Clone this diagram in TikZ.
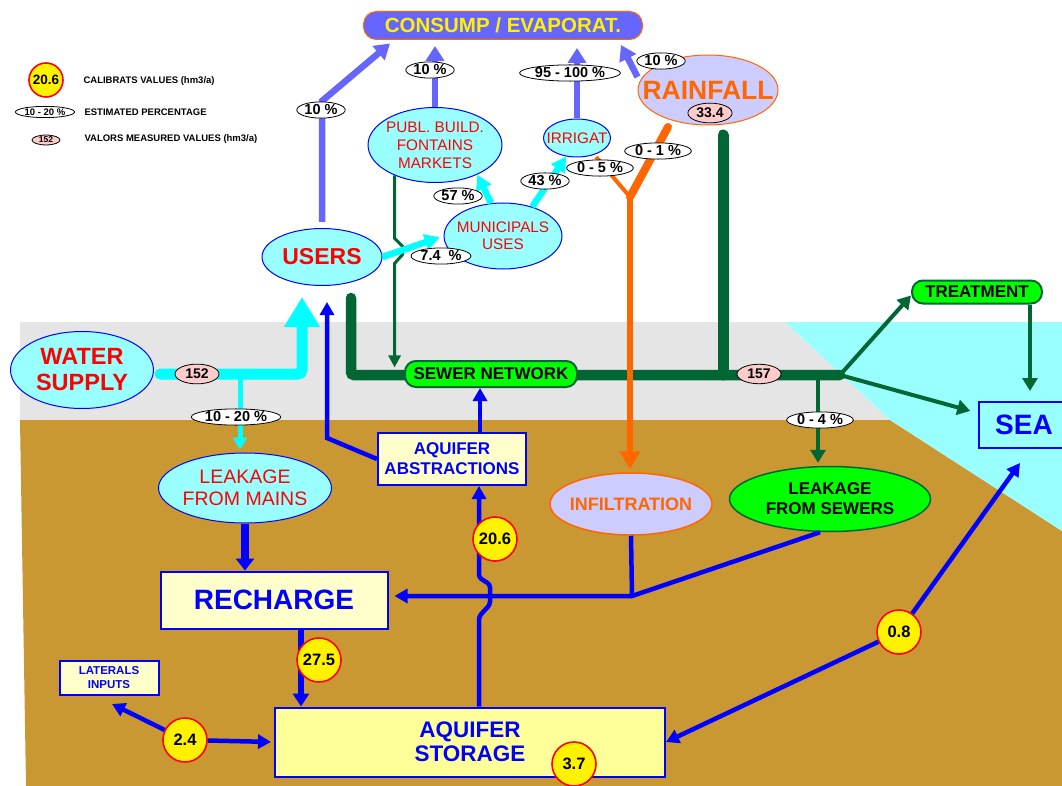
\documentclass[tikz,border=0pt]{standalone}
\usepackage{fontspec}
\setmainfont{Liberation Sans}
\usetikzlibrary{arrows.meta,shapes.geometric,positioning}

\definecolor{soil}{HTML}{C99833}
\definecolor{roadgray}{HTML}{E5E5E5}
\definecolor{seacyan}{HTML}{99FFFF}
\definecolor{flowcyan}{HTML}{00FFFF}
\definecolor{pipegreen}{HTML}{006633}
\definecolor{padgreen}{HTML}{00FF00}
\definecolor{flowblue}{HTML}{0000FF}
\definecolor{evapblue}{HTML}{6666FF}
\definecolor{rainorange}{HTML}{FF6600}
\definecolor{lavender}{HTML}{CCCCFF}
\definecolor{paleyellow}{HTML}{FFFFCC}
\definecolor{storeyellow}{HTML}{FFFF99}
\definecolor{measpink}{HTML}{FFCCCC}
\definecolor{usered}{HTML}{FF0000}

\newcommand{\fsz}[2]{\fontsize{#1}{#2}\selectfont}

\tikzset{
  useell/.style={ellipse,draw=flowblue,fill=seacyan,line width=1,inner sep=0,text=usered,align=center},
  yelbox/.style={rectangle,draw=flowblue,fill=paleyellow,line width=2,inner sep=0,text=flowblue,align=center},
  pill/.style={rectangle,rounded corners=11,draw=pipegreen,fill=padgreen,line width=2,inner sep=0,font=\fsz{17}{20}\bfseries},
  calib/.style={circle,draw=red,fill=yellow,line width=1.6,inner sep=0,minimum size=44,font=\fsz{16.5}{19}\bfseries},
  pct/.style={ellipse,draw,fill=white,line width=0.8,inner sep=0.6,font=\fsz{14.5}{17}\bfseries},
  meas/.style={ellipse,draw,fill=measpink,line width=0.8,inner sep=2,minimum width=44,font=\fsz{14}{16}\bfseries},
  bluearr/.style={flowblue,line width=4.5,-{Triangle[length=13pt,width=14pt]}},
  greenarr/.style={pipegreen,line width=4,-{Triangle[length=13pt,width=15pt]}},
  evaparr/.style={evapblue,line width=6.5,-{Triangle[length=15pt,width=18pt]}},
  cyanarr/.style={flowcyan,line width=6.5,-{Triangle[length=15pt,width=16pt]}},
}

\begin{document}
\begin{tikzpicture}[x=1pt,y=-1pt]
\useasboundingbox (0,0) rectangle (1062,786);
\fill[roadgray] (20,322) -- (785,322) -- (890,420) -- (20,420) -- cycle;
\fill[soil] (20,420) -- (890,420) -- (1062,531) -- (1062,786) -- (26,786) -- cycle;
\fill[seacyan] (785,322) -- (1062,322) -- (1062,531) -- (890,420) -- cycle;

% legend
\node[calib,minimum size=34,font=\fsz{13.5}{16}\bfseries] (legcal) at (46,80) {20.6};
\node[anchor=west,font=\fsz{9.5}{11}\bfseries] (legcaltxt) at (80,81) {CALIBRATS VALUES (hm3/a)};
\node[pct,font=\fsz{9.5}{11}\bfseries] (legpct) at (45,112) {10 - 20 \%};
\node[anchor=west,font=\fsz{9.5}{11}\bfseries] (legpcttxt) at (81,112) {ESTIMATED PERCENTAGE};
\node[meas,minimum width=28,inner sep=0.5,font=\fsz{8.5}{10}\bfseries] (legmeas) at (46,140) {152};
\node[anchor=west,font=\fsz{9.5}{11}\bfseries] (legmeastxt) at (81,139) {VALORS MEASURED VALUES (hm3/a)};

% pipes
\coordinate (pipetop) at (351,298);
\coordinate (sewjoin) at (840,375);
\coordinate (raindrain) at (723,135);
\draw[pipegreen,line width=10.5,line cap=round,rounded corners=3] (pipetop) |- (sewjoin);
\draw[pipegreen,line width=11,line cap=round] (raindrain) -- (raindrain |- sewjoin);
\coordinate (supplyout) at (160,374);
\coordinate (userin) at (302,297);
\coordinate (mainsjoin) at (240,374);
\draw[flowcyan,line width=11,line cap=round,rounded corners=4,-{Triangle[length=30pt,width=34pt]}] (supplyout) -| (userin);
\coordinate (ofork) at (630,197);
\coordinate (otop) at (668,127);
\coordinate (obranch) at (596,157);
\draw[rainorange,line width=8,line cap=round] (otop) -- (ofork);
\draw[rainorange,line width=4] (obranch) -- (ofork);

% nodes
\node[rectangle,rounded corners=13,draw=rainorange,fill=evapblue,line width=1,minimum width=279,minimum height=28,text=yellow,font=\fsz{20.5}{24}\bfseries] (consump) at (503,25.5) {CONSUMP / EVAPORAT.};
\node[ellipse,draw=rainorange,fill=lavender,line width=1,inner xsep=-16.5pt,inner ysep=0,minimum width=140,minimum height=70,text=rainorange,font=\fsz{26.5}{30}\bfseries] (rain) at (708,90) {RAINFALL};
\node[useell,inner xsep=-2pt,minimum width=134,minimum height=75,font=\fsz{15.3}{18}] (publ) at (435,145) {PUBL. BUILD.\\FONTAINS\\MARKETS};
\node[useell,inner xsep=-7pt,minimum width=67,minimum height=38,font=\fsz{15.3}{18}] (irrig) at (577,138) {IRRIGAT};
\node[useell,minimum width=120,minimum height=57,font=\fsz{23}{27}\bfseries] (users) at (322,257) {USERS};
\node[useell,inner xsep=-6pt,minimum width=118,minimum height=66,font=\fsz{15.3}{17}] (muni) at (503,236) {MUNICIPALS\\USES};
\node[useell,minimum width=143,minimum height=77,font=\fsz{23.5}{26}\bfseries] (supply) at (82,370) {WATER\\SUPPLY};
\node[useell,inner xsep=-4pt,minimum width=173,minimum height=70,font=\fsz{19.5}{22}] (leakmains) at (245,488) {LEAKAGE\\FROM MAINS};
\node[pill,minimum width=172,minimum height=26] (sewer) at (491,374) {SEWER NETWORK};
\node[pill,minimum width=130,minimum height=23] (treat) at (977,292) {TREATMENT};
\node[rectangle,draw=flowblue,line width=2,minimum width=90,minimum height=46,inner sep=0,text=flowblue,font=\fsz{28}{32}\bfseries] (sea) at (1024,425) {SEA};
\node[yelbox,minimum width=148,minimum height=52,font=\fsz{17}{20}\bfseries] (abstr) at (452,459) {AQUIFER\\ABSTRACTIONS};
\node[ellipse,draw=rainorange,fill=lavender,line width=1.5,inner xsep=-13pt,inner ysep=0,minimum width=162,minimum height=62,text=rainorange,font=\fsz{18}{21}\bfseries] (infil) at (631,504) {INFILTRATION};
\node[ellipse,draw=pipegreen,fill=padgreen,line width=1.5,inner sep=0,minimum width=201,minimum height=65,align=center,font=\fsz{17}{20}\bfseries] (leaksew) at (830,499) {LEAKAGE\\FROM SEWERS};
\node[yelbox,minimum width=227,minimum height=57,font=\fsz{28}{32}\bfseries] (recharge) at (274,600) {RECHARGE};
\node[yelbox,fill=storeyellow,minimum width=390,minimum height=69,font=\fsz{22.5}{24}\bfseries] (storage) at (470,742) {AQUIFER\\STORAGE};
\node[yelbox,minimum width=99,minimum height=34,font=\fsz{11.5}{14}\bfseries] (lat) at (109,678) {LATERALS\\INPUTS};
\node[calib] (c08) at (899,632) {0.8};
\node[calib] (c24) at (185,740) {2.4};

% consumption
\draw[evaparr] ([yshift=6pt]users.north) -- ++(0,-121) -- ([xshift=-113pt,yshift=-3.5pt]consump.south);
\draw[evaparr,shorten >=6pt] (publ.north) -- (publ.north |- consump.south);
\draw[evaparr,shorten >=8pt] (irrig.north) -- (irrig.north |- consump.south);
\draw[evaparr] ([yshift=13pt]rain.west) -- ([xshift=118pt,yshift=-5pt]consump.south);

% users
\draw[pipegreen,line width=3,-{Triangle[length=12pt,width=12pt]}] (publ.217) -- ++(0,63) -- ++(8,8) -- ++(0,8) -- ++(-8,9) -- ++(0,104);
\draw[cyanarr,shorten >=4pt] (users.east) -- (muni.west);
\draw[cyanarr] (muni.110) -- (publ.-35);
\draw[cyanarr] (muni.45) -- (irrig.240);
\draw[flowcyan,line width=5,shorten >=3pt,-{Triangle[length=12pt,width=14pt]}] (mainsjoin) -- (mainsjoin |- leakmains.north);
\draw[rainorange,line width=6.5,shorten >=3pt,-{Triangle[length=18pt,width=20pt]}] (ofork) -- (ofork |- infil.north);

% sewers
\coordinate (sewleak) at (818,375);
\coordinate (treatout) at ([xshift=53pt]treat.south);
\draw[greenarr] (sewjoin) -- ([yshift=-3.5pt]treat.west);
\draw[greenarr,shorten >=8pt] (sewjoin) -- ([yshift=12pt]sea.west);
\draw[greenarr,shorten >=10pt] (treatout) -- (treatout |- sea.north);
\draw[greenarr,shorten >=3pt] (sewleak) -- (sewleak |- leaksew.north);

% aquifer
\coordinate (rechout) at ([xshift=27pt]recharge.south);
\coordinate (rechjoin) at (632,596);
\draw[flowblue,line width=8.5,-{Triangle[length=12pt,width=18pt]}] (leakmains.south) -- (leakmains.south |- recharge.north);
\draw[flowblue,line width=6,-{Triangle[length=13pt,width=16pt]}] (rechout) -- (rechout |- storage.north);
\draw[bluearr] (abstr.west) -- ++(-50,-21) -- ++(0,-136);
\draw[bluearr] ([xshift=28pt]abstr.north) -- ([xshift=-11pt]sewer.south);
\draw[bluearr,rounded corners=3] ([xshift=9pt]storage.north) -- ++(0,-90) -- ++(11,-12) -- ++(0,-20) -- ++(-11,-7) -- ([xshift=27pt]abstr.south);
\draw[flowblue,line width=4.5] (infil.south) -- (rechjoin);
\draw[bluearr,shorten >=6pt] ([xshift=-10pt]leaksew.south) -- (rechjoin) -- (rechjoin -| recharge.east);
\draw[bluearr] (c08) -- ([xshift=-4pt,yshift=-14pt]sea.south);
\draw[bluearr] (c08) -- (storage.east);
\draw[bluearr] (c24) -- ([xshift=3pt,yshift=-8pt]lat.south);
\draw[bluearr,shorten >=3pt] (c24) -- (storage.west);

% labels
\node[pct] (pusers) at (321,110) {10 \%};
\node[pct] (ppubl) at (430,70) {10 \%};
\node[pct] (pirrig) at (570,73) {95 - 100 \%};
\node[pct] (prain) at (661,61) {10 \%};
\node[meas] (mrain) at (710,113) {33.4};
\node[pct] (pmuni) at (441,256) {7.4\ \ \%};
\node[pct] (ppublm) at (458,196) {57 \%};
\node[pct] (pirrm) at (545,181) {43 \%};
\node[pct] (pbranch) at (600,168) {0 - 5 \%};
\node[pct] (prainm) at (658,151) {0 - 1 \%};
\node[meas] (m152) at (197,374) {152};
\node[pct] (pmains) at (236,417) {10 - 20 \%};
\node[meas] (m157) at (759,374) {157};
\node[pct] (psew) at (820,420) {0 - 4 \%};
\node[calib] (c275) at (319,660) {27.5};
\node[calib] (c206) at (495,539) {20.6};
\node[calib] (c37) at (574,764) {3.7};
\end{tikzpicture}
\end{document}
